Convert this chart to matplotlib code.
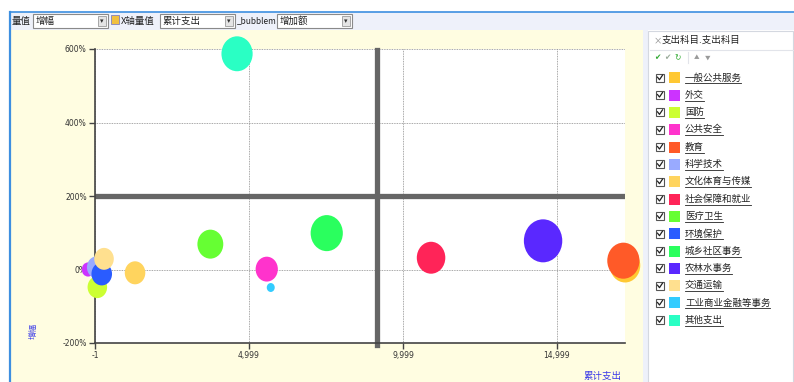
import numpy as np
import matplotlib
matplotlib.use("Agg")
import matplotlib.pyplot as plt
from matplotlib.patches import Rectangle
from matplotlib.path import Path
from matplotlib.transforms import Affine2D

plt.rcParams["font.family"] = ["Noto Sans CJK SC", "DejaVu Sans"]
plt.rcParams["axes.unicode_minus"] = False

# ── data ─────────────────────────────────────────────────────────────────────
CATEGORIES = ["一般公共服务", "外交", "国防", "公共安全", "教育", "科学技术",
              "文化体育与传媒", "社会保障和就业", "医疗卫生", "环境保护",
              "城乡社区事务", "农林水事务", "交通运输", "工业商业金融等事务", "其他支出"]
COLORS = ["#ffc833", "#cc33ff", "#ccff33", "#ff33cc", "#ff5a28", "#99aaff",
          "#ffd45e", "#ff2458", "#66ff33", "#2a5cff", "#2aff5e", "#5a28ff",
          "#ffe08f", "#33ccff", "#2affc4"]
CUM_SPEND = [17209, -227, 75, 5575, 17154, 55, 1299, 10910, 3744, 218,
             7523, 14547, 292, 5705, 4611]          # 累计支出
GROWTH = [11, 0, -48, 1, 24, 6, -9, 32, 69, -12, 99, 78, 29, -49, 587]  # 增幅 %
INCREASE = [116, 20, 48, 62, 130, 48, 53, 102, 84, 53, 130, 185, 48, 8, 122]  # 增加额

X_TICKS = [-1, 4999, 9999, 14999]
X_TICK_LABELS = ["-1", "4,999", "9,999", "14,999"]
Y_TICKS = [-200, 0, 200, 400, 600]
X_REF = 9155   # 累计支出 reference line
Y_REF = 200    # 增幅 reference line

W, H = 794, 382
fig = plt.figure(figsize=(W / 100, H / 100), dpi=100, facecolor="white")

# ── window chrome drawn in pixel coordinates ─────────────────────────────────
ui = fig.add_axes([0, 0, 1, 1], zorder=0)
ui.set_xlim(0, W)
ui.set_ylim(H, 0)
ui.axis("off")

def box(x0, y0, x1, y1, fc, ec="none", lw=0.8):
    ui.add_patch(Rectangle((x0, y0), x1 - x0, y1 - y0, facecolor=fc,
                           edgecolor=ec, linewidth=lw))

box(10, 12, W, 30, "#eef1fa")
box(11, 30, 643, H, "#fffde1")
box(643, 30, 648, H, "#eef1fa")
box(648, 31, W - 1, H + 2, "white", "#d4d8e0")
ui.plot([10, W], [12, 12], color="#3d8fe0", lw=1.2)
ui.plot([10, 10], [12, H], color="#3d8fe0", lw=1.6)

TXT = dict(fontsize=6.8, color="#222222", va="center")

def combo(x0, x1, label):
    box(x0, 14, x1, 28, "white", "#8a8a8a")
    ui.text(x0 + 3, 21, label, **TXT)
    box(x1 - 10, 16, x1 - 2, 26, "#e4e4e4", "#9a9a9a", 0.6)
    ui.text(x1 - 6, 21.5, "▾", fontsize=5, ha="center", va="center", color="#333333")

ui.text(11.5, 21, "量值", **TXT)
combo(33, 108, "增幅")
box(111, 15, 119, 24, "#f0c040", "#8080c0", 0.6)
ui.text(121, 21, "X轴量值", **TXT)
combo(160, 235, "累计支出")
ui.text(237, 21, "_bubblem", fontsize=6.0, color="#222222", va="center")
combo(277, 352, "增加额")

# legend panel
ui.text(654, 40.5, "×", fontsize=6, color="#888888", va="center")
ui.text(662, 40.5, "支出科目.支出科目", **TXT)
ui.plot([650, W], [50, 50], color="#e2e4ea", lw=0.8)
for i, (sym, c) in enumerate([("✔", "#33aa33"), ("✔", "#99aa99"), ("↻", "#33aa33")]):
    ui.text(654 + i * 10, 58, sym, fontsize=5.5, color=c, va="center")
ui.plot([688, 688], [52, 63], color="#e2e4ea", lw=0.8)
ui.text(694, 58, "▲", fontsize=4, color="#999999", va="center")
ui.text(705, 58, "▼", fontsize=4, color="#999999", va="center")

for i, (name, c) in enumerate(zip(CATEGORIES, COLORS)):
    yc = 77.7 + i * 17.33
    box(656, yc - 4, 664, yc + 4, "white", "#555555", 0.8)
    ui.plot([657.5, 659.5, 662.5], [yc - 0.5, yc + 2, yc - 2.5], color="#222222", lw=0.9)
    box(669, yc - 5.5, 680, yc + 5.5, c)
    ui.text(685, yc, name, **TXT)
    ui.plot([685, 685 + 9.4 * len(name)], [yc + 5.5, yc + 5.5], color="#222222", lw=0.6)

# axis titles
fig.text(33 / W, 1 - 331 / H, "增幅", fontsize=5.8, color="#3a3ae8",
         rotation=90, ha="center", va="center")
fig.text(603 / W, 1 - 376 / H, "累计支出", fontsize=6.8, color="#3a3ae8",
         ha="center", va="center")

# ── bubble chart ─────────────────────────────────────────────────────────────
ax = fig.add_axes([95 / W, 1 - 343 / H, (625 - 95) / W, (343 - 49) / H], zorder=1)
ax.set_facecolor("white")
ax.set_xlim(-1, 17207)
ax.set_ylim(-200, 600)

ax.set_xticks(X_TICKS)
ax.set_xticklabels(X_TICK_LABELS)
ax.set_yticks(Y_TICKS)
ax.set_yticklabels([f"{v}%" for v in Y_TICKS])
ax.tick_params(colors="#444444", labelcolor="#333333", labelsize=5.5,
               length=4, width=1, pad=2)
for lab in ax.get_xticklabels() + ax.get_yticklabels():
    lab.set_family("DejaVu Sans")
for s in ["top", "right"]:
    ax.spines[s].set_visible(False)
for s in ["left", "bottom"]:
    ax.spines[s].set_color("#444444")
    ax.spines[s].set_linewidth(1.2)
ax.grid(True, color="#8a8a8a", linestyle=(0, (1, 1)), linewidth=0.6)

ax.axhline(Y_REF, color="#666666", linewidth=3.8, zorder=2)
ax.axvline(X_REF, ymin=-0.008, ymax=0.995, color="#666666", linewidth=3.8,
           zorder=2, clip_on=False)

ellipse = Path.unit_circle().transformed(Affine2D().scale(1.0, 1.12))
sizes = np.array(INCREASE) * 10 * 0.72 ** 2
for xv, yv, sv, c in zip(CUM_SPEND, GROWTH, sizes, COLORS):
    ax.scatter(xv, yv, s=sv, marker=ellipse, color=c, edgecolors="none",
               clip_on=False, zorder=3)

fig.savefig("out.png", dpi=100)
